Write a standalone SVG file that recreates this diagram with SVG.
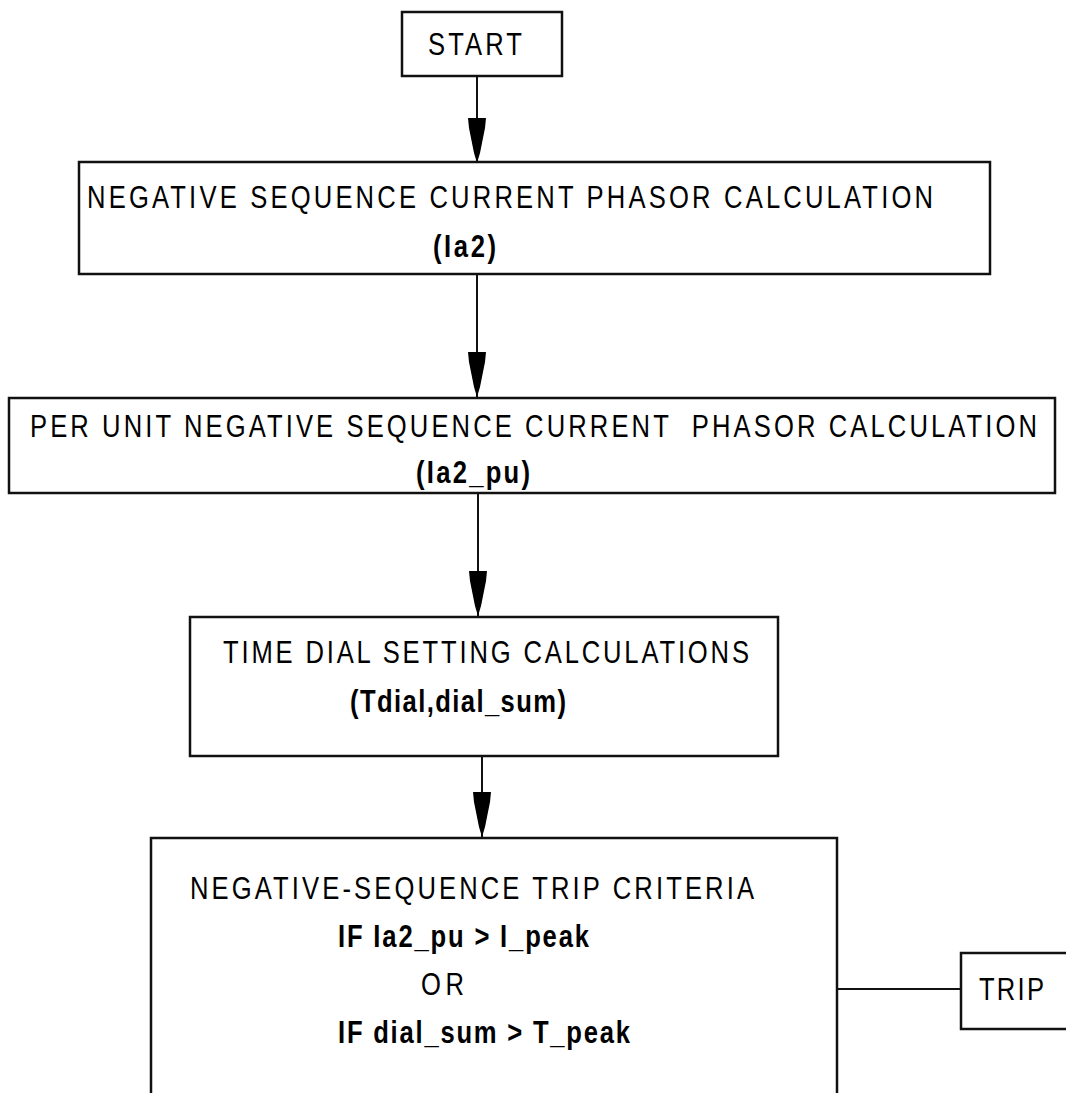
<svg xmlns="http://www.w3.org/2000/svg" width="1066" height="1093" viewBox="0 0 1066 1093">
  <style>
    .box { fill: #fff; stroke: #111; stroke-width: 2.5; }
    .wire { fill: none; stroke: #111; stroke-width: 2; }
    /* labels are drawn condensed (scaleX 0.8) and spread out to their width */
    .lbl { font-family: "Liberation Sans", Arial, sans-serif; font-size: 32px; fill: #000; white-space: pre; }
    .var { font-weight: bold; }
  </style>
  <defs>
    <!-- tall tapered arrowhead; tip sits on the end of the line -->
    <marker id="head" markerUnits="userSpaceOnUse" markerWidth="46" markerHeight="20" refX="45" refY="9" orient="auto" overflow="visible">
      <path d="M0,0 L10,1 L25,4 L35,6 L45,9 L35,12 L25,14 L10,17 L0,18 Z" fill="#000"/>
    </marker>
  </defs>

  <rect width="1066" height="1093" fill="#fff"/>

  <g id="connectors">
    <line class="wire" x1="477" y1="76" x2="477" y2="163" marker-end="url(#head)"/>
    <line class="wire" x1="477" y1="274" x2="477" y2="397" marker-end="url(#head)"/>
    <line class="wire" x1="478" y1="493" x2="478" y2="616" marker-end="url(#head)"/>
    <line class="wire" x1="482" y1="756" x2="482" y2="837" marker-end="url(#head)"/>
    <line class="wire" x1="832" y1="989" x2="961" y2="989"/>
  </g>

  <g id="start">
    <rect class="box" x="402" y="12" width="160" height="64"/>
    <text class="lbl" transform="translate(428,55) scale(0.8,1)" textLength="117.5" lengthAdjust="spacing">START</text>
  </g>

  <g id="neg-seq-phasor">
    <rect class="box" x="79" y="162" width="911" height="112"/>
    <text class="lbl" transform="translate(87,208) scale(0.8,1)" textLength="1057.5" lengthAdjust="spacing">NEGATIVE SEQUENCE CURRENT PHASOR CALCULATION</text>
    <text class="lbl var" transform="translate(433,257) scale(0.8,1)" textLength="78.75" lengthAdjust="spacing">(Ia2)</text>
  </g>

  <g id="per-unit-phasor">
    <rect class="box" x="9" y="398" width="1046" height="95"/>
    <text class="lbl" transform="translate(30,437) scale(0.8,1)" textLength="1258.75" lengthAdjust="spacing">PER UNIT NEGATIVE SEQUENCE CURRENT  PHASOR CALCULATION</text>
    <text class="lbl var" transform="translate(416,483) scale(0.8,1)" textLength="142.5" lengthAdjust="spacing">(Ia2_pu)</text>
  </g>

  <g id="time-dial">
    <rect class="box" x="190" y="617" width="588" height="139"/>
    <text class="lbl" transform="translate(223,663) scale(0.8,1)" textLength="657.5" lengthAdjust="spacing">TIME DIAL SETTING CALCULATIONS</text>
    <text class="lbl var" transform="translate(350,712) scale(0.8,1)" textLength="270" lengthAdjust="spacing">(Tdial,dial_sum)</text>
  </g>

  <g id="trip-criteria">
    <rect class="box" x="151" y="838" width="686" height="280"/>
    <text class="lbl" transform="translate(190,899) scale(0.8,1)" textLength="705" lengthAdjust="spacing">NEGATIVE-SEQUENCE TRIP CRITERIA</text>
    <text class="lbl var" transform="translate(338,947) scale(0.8,1)" textLength="313.75" lengthAdjust="spacing">IF Ia2_pu &gt; I_peak</text>
    <text class="lbl" transform="translate(421,995) scale(0.8,1)" textLength="53.75" lengthAdjust="spacing">OR</text>
    <text class="lbl var" transform="translate(338,1043) scale(0.8,1)" textLength="365" lengthAdjust="spacing">IF dial_sum &gt; T_peak</text>
  </g>

  <g id="trip">
    <rect class="box" x="961" y="953" width="130" height="76"/>
    <text class="lbl" transform="translate(979,1000) scale(0.8,1)" textLength="81.25" lengthAdjust="spacing">TRIP</text>
  </g>
</svg>
